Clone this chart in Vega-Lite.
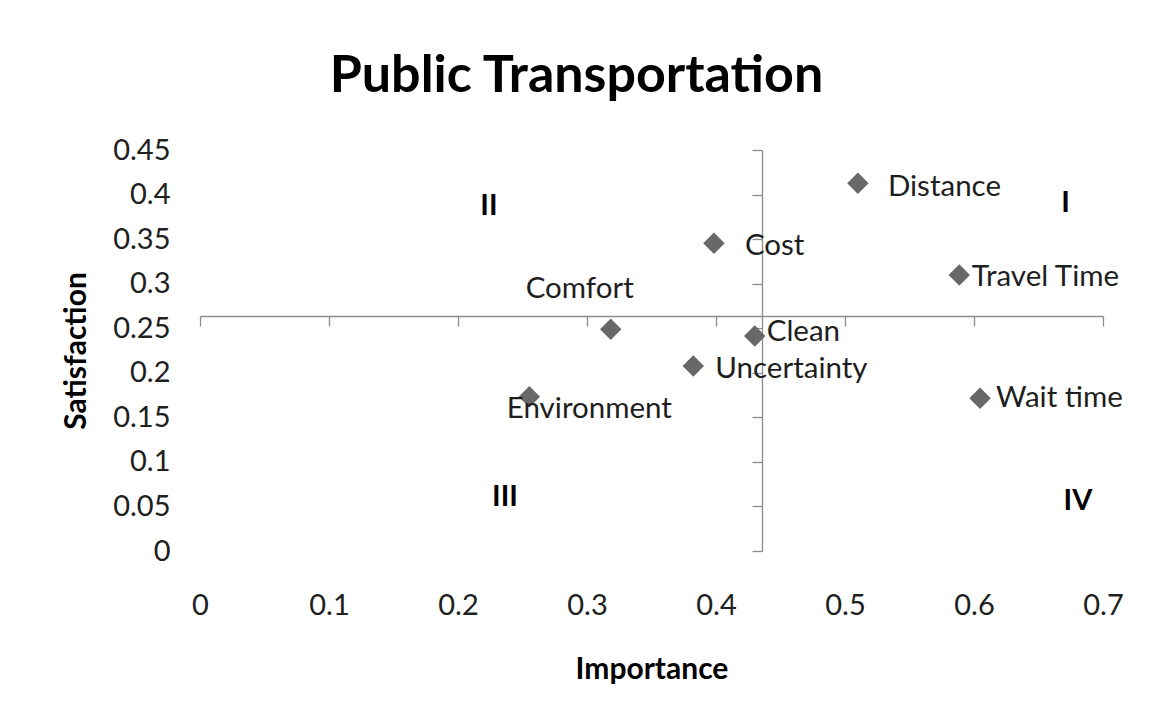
{
  "$schema": "https://vega.github.io/schema/vega-lite/v6.json",
  "width": 903,
  "height": 401,
  "autosize": {"type": "none"},
  "padding": {"left": 200, "top": 150, "right": 48, "bottom": 174},
  "background": "white",
  "config": {
    "view": {"stroke": null},
    "font": "Lato",
    "text": {"font": "Lato", "fontSize": 29.5, "color": "#1e1e1e"}
  },
  "title": {
    "text": "Public Transportation",
    "font": "Lato",
    "fontSize": 52,
    "fontWeight": "bold",
    "color": "#000000",
    "anchor": "middle",
    "frame": "group",
    "dx": -75,
    "baseline": "alphabetic",
    "offset": -8
  },
  "datasets": {
    "points": [
      {"label": "Distance", "importance": 0.510, "satisfaction": 0.4126},
      {"label": "Cost", "importance": 0.3984, "satisfaction": 0.3453},
      {"label": "Travel Time", "importance": 0.5886, "satisfaction": 0.3097},
      {"label": "Comfort", "importance": 0.3184, "satisfaction": 0.2488},
      {"label": "Clean", "importance": 0.430, "satisfaction": 0.2413},
      {"label": "Uncertainty", "importance": 0.3824, "satisfaction": 0.2076},
      {"label": "Environment", "importance": 0.2553, "satisfaction": 0.1732},
      {"label": "Wait time", "importance": 0.6047, "satisfaction": 0.1714}
    ],
    "quadrants": [
      {"q": "I", "importance": 0.671, "satisfaction": 0.390},
      {"q": "II", "importance": 0.224, "satisfaction": 0.387},
      {"q": "III", "importance": 0.2364, "satisfaction": 0.0606},
      {"q": "IV", "importance": 0.6806, "satisfaction": 0.0561}
    ]
  },
  "layer": [
    {
      "data": {"name": "points"},
      "mark": {"type": "point", "opacity": 0},
      "encoding": {
        "x": {
          "field": "importance", "type": "quantitative",
          "scale": {"domain": [0, 0.7], "nice": false, "zero": false},
          "axis": {
            "orient": "bottom", "offset": -235,
            "values": [0, 0.1, 0.2, 0.3, 0.4, 0.5, 0.6, 0.7],
            "labels": false, "title": null, "grid": false,
            "domainColor": "#8c8c8c", "tickColor": "#8c8c8c",
            "domainWidth": 1.3, "tickWidth": 1.3, "tickSize": 10
          }
        },
        "y": {
          "field": "satisfaction", "type": "quantitative",
          "scale": {"domain": [0, 0.45], "nice": false, "zero": false},
          "axis": {
            "orient": "left", "offset": -562,
            "values": [0, 0.05, 0.1, 0.15, 0.2, 0.25, 0.3, 0.35, 0.4, 0.45],
            "labels": false, "title": null, "grid": false,
            "domainColor": "#8c8c8c", "tickColor": "#8c8c8c",
            "domainWidth": 1.3, "tickWidth": 1.3, "tickSize": 10
          }
        }
      }
    },
    {
      "data": {"name": "points"},
      "mark": {"type": "point", "shape": "diamond", "filled": true, "size": 460, "color": "#686868", "opacity": 1, "strokeWidth": 0},
      "encoding": {
        "x": {
          "field": "importance", "type": "quantitative",
          "axis": {
            "orient": "bottom",
            "values": [0, 0.1, 0.2, 0.3, 0.4, 0.5, 0.6, 0.7],
            "format": "~g",
            "domain": false, "ticks": false, "tickSize": 0, "grid": false,
            "labelFlush": false,
            "labelPadding": 63, "labelBaseline": "alphabetic",
            "labelFont": "Lato", "labelFontSize": 29, "labelColor": "#202020",
            "title": "Importance", "titleFont": "Lato", "titleFontSize": 30,
            "titleFontWeight": "bold", "titleColor": "#000000",
            "titleY": 127, "titleBaseline": "alphabetic"
          }
        },
        "y": {
          "field": "satisfaction", "type": "quantitative",
          "axis": {
            "orient": "left",
            "values": [0, 0.05, 0.1, 0.15, 0.2, 0.25, 0.3, 0.35, 0.4, 0.45],
            "format": "~g",
            "domain": false, "ticks": false, "tickSize": 0, "grid": false,
            "labelFlush": false,
            "labelPadding": 30,
            "labelFont": "Lato", "labelFontSize": 29, "labelColor": "#202020",
            "title": "Satisfaction", "titleFont": "Lato", "titleFontSize": 30,
            "titleFontWeight": "bold", "titleColor": "#000000",
            "titleX": -115, "titleBaseline": "alphabetic"
          }
        }
      }
    },
    {
      "data": {"name": "points"},
      "mark": {
        "type": "text",
        "baseline": "middle",
        "align": {"expr": "datum.label == 'Comfort' || datum.label == 'Environment' ? 'center' : 'left'"},
        "dx": {"expr": "datum.label == 'Distance' ? 30 : datum.label == 'Cost' ? 31 : datum.label == 'Travel Time' ? 12.5 : datum.label == 'Wait time' ? 16 : datum.label == 'Clean' ? 12 : datum.label == 'Uncertainty' ? 22 : datum.label == 'Comfort' ? -31 : 60"},
        "dy": {"expr": "datum.label == 'Distance' ? 4 : datum.label == 'Cost' ? 3 : datum.label == 'Travel Time' ? 2 : datum.label == 'Wait time' ? 0 : datum.label == 'Clean' ? -4 : datum.label == 'Uncertainty' ? 3 : datum.label == 'Comfort' ? -40 : 12"},
        "font": "Lato",
        "fontSize": 29.5,
        "color": "#1e1e1e"
      },
      "encoding": {
        "x": {"field": "importance", "type": "quantitative", "axis": null},
        "y": {"field": "satisfaction", "type": "quantitative", "axis": null},
        "text": {"field": "label"}
      }
    },
    {
      "data": {"name": "quadrants"},
      "mark": {"type": "text", "baseline": "middle", "align": "center", "font": "Lato", "fontSize": 29, "fontWeight": "bold", "color": "#000000"},
      "encoding": {
        "x": {"field": "importance", "type": "quantitative", "axis": null},
        "y": {"field": "satisfaction", "type": "quantitative", "axis": null},
        "text": {"field": "q"}
      }
    }
  ],
  "resolve": {"axis": {"x": "independent", "y": "independent"}}
}
